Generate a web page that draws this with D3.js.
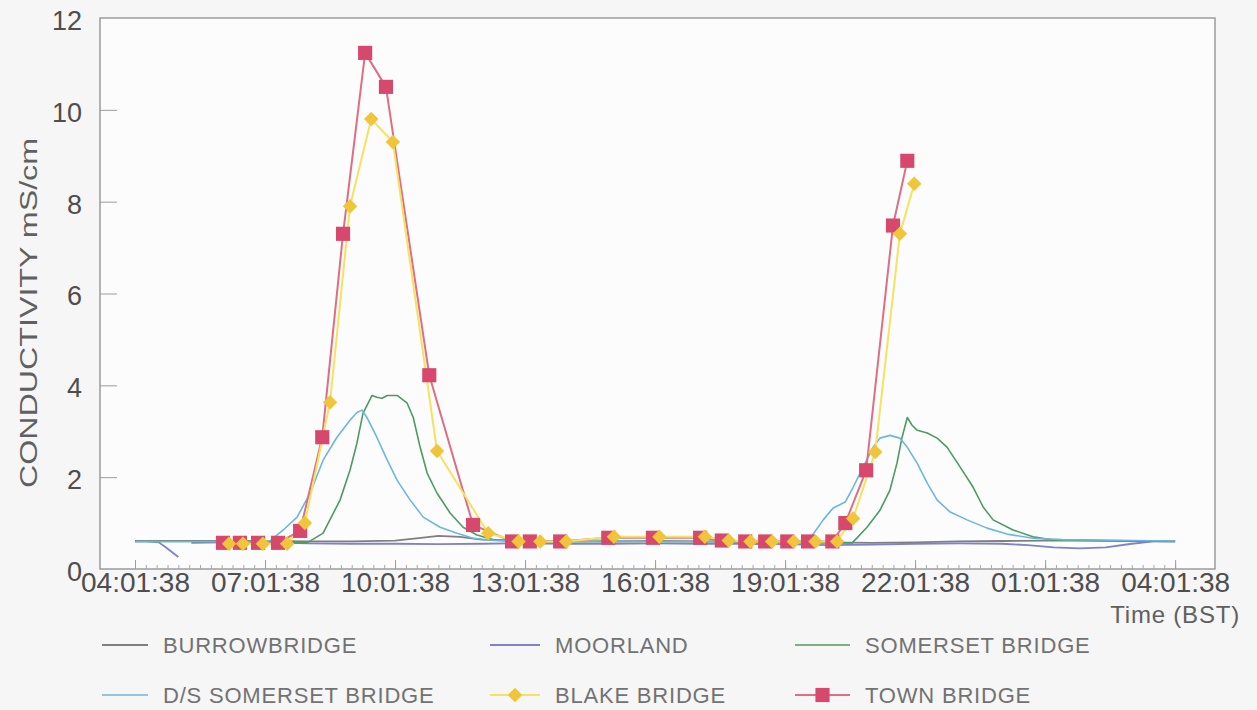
<!DOCTYPE html>
<html>
<head>
<meta charset="utf-8">
<script src="https://cdn.jsdelivr.net/npm/d3@7"></script>
<style>
  html, body { margin: 0; padding: 0; background: #f6f6f6; }
  svg { display: block; font-family: "Liberation Sans", Arial, Helvetica, sans-serif; }
</style>
</head>
<body>
<svg id="chart" width="1257" height="710"></svg>
<script>
// Conductivity logger readings, 24 h from 04:01:38 (BST).
// Each reading is [hours after start, conductivity mS/cm]; null = missing reading.
const startClock = [4, 1, 38];
const yTickValues = [0, 2, 4, 6, 8, 10, 12];
const xTickHours = [0, 3, 6, 9, 12, 15, 18, 21, 24];
const axisTitleY = "CONDUCTIVITY mS/cm";
const axisTitleX = "Time (BST)";

const burrowbridge = [
  [0,0.61],[1,0.61],[2,0.61],[3,0.61],[4,0.6],[5,0.6],[6,0.62],[6.6,0.68],[7.0,0.72],
  [7.5,0.7],[8.0,0.64],[9,0.61],[10,0.6],[11,0.6],[12,0.61],[13,0.6],[14,0.6],[15,0.6],
  [16,0.58],[17,0.57],[18,0.58],[19,0.6],[20,0.61],[21,0.62],[22,0.62],[23,0.61],[24,0.6]
];

const moorland = [
  [0,0.6],[0.25,0.6],[0.55,0.58],[0.7,0.48],[1.0,0.26],[1.1,null],[1.3,0.57],[2,0.58],
  [3,0.58],[4,0.56],[5,0.55],[6,0.55],[7,0.54],[8,0.55],[9,0.56],[10,0.55],[11,0.55],
  [12,0.56],[13,0.55],[14,0.55],[15,0.54],[16,0.52],[17,0.53],[18,0.55],[19,0.56],
  [20,0.55],[20.6,0.52],[21.2,0.47],[21.8,0.45],[22.4,0.47],[23,0.55],[23.5,0.6],[24,0.6]
];

const somersetBridge = [
  [0,0.6],[1,0.6],[2,0.6],[3,0.59],[3.6,0.57],[3.97,0.57],[4.34,0.78],[4.73,1.5],[4.96,2.15],
  [5.12,2.74],[5.26,3.39],[5.47,3.78],[5.58,3.74],[5.7,3.72],[5.82,3.78],[6.05,3.78],
  [6.28,3.61],[6.42,3.3],[6.58,2.65],[6.74,2.09],[6.97,1.65],[7.27,1.22],[7.57,0.91],
  [7.89,0.74],[8.3,0.63],[9,0.6],[10,0.6],[11,0.6],[12,0.6],[13,0.6],[14,0.59],[15,0.58],
  [16,0.57],[16.55,0.57],[16.89,0.91],[17.19,1.28],[17.42,1.72],[17.58,2.3],[17.7,2.87],
  [17.82,3.3],[17.93,3.13],[18.05,3.02],[18.28,2.96],[18.51,2.85],[18.74,2.65],[19.04,2.22],
  [19.34,1.78],[19.57,1.35],[19.8,1.07],[20.26,0.85],[20.72,0.7],[21.19,0.63],[22,0.62],
  [23,0.61],[24,0.6]
];

const dsSomersetBridge = [
  [0,0.6],[1,0.6],[2,0.6],[2.8,0.6],[3.12,0.62],[3.42,0.85],[3.74,1.13],[4.04,1.65],
  [4.34,2.37],[4.66,2.87],[4.96,3.24],[5.12,3.41],[5.24,3.46],[5.35,3.3],[5.58,2.87],
  [5.82,2.37],[6.05,1.93],[6.35,1.5],[6.65,1.13],[7.04,0.91],[7.43,0.78],[7.8,0.67],
  [8.3,0.62],[9,0.6],[10,0.6],[11,0.61],[12,0.6],[13,0.6],[14,0.6],[15,0.6],[15.3,0.6],
  [15.58,0.67],[15.88,1.07],[16.11,1.33],[16.39,1.46],[16.57,1.78],[16.8,2.22],[17.03,2.65],
  [17.19,2.85],[17.42,2.91],[17.65,2.85],[17.82,2.65],[18.05,2.3],[18.28,1.87],[18.51,1.5],
  [18.81,1.24],[19.2,1.07],[19.66,0.89],[20.12,0.76],[20.72,0.67],[21.4,0.64],[22.2,0.63],
  [23,0.62],[24,0.61]
];

const blakeBridge = [
  [2.17,0.55],[2.49,0.55],[2.95,0.55],[3.51,0.55],[3.92,1.0],[4.5,3.63],[4.96,7.9],
  [5.45,9.8],[5.95,9.3],[6.97,2.57],[8.15,0.78],[8.85,0.6],[9.35,0.6],[9.95,0.6],
  [11.05,0.7],[12.1,0.7],[13.15,0.7],[13.7,0.62],[14.2,0.6],[14.7,0.6],[15.2,0.6],
  [15.7,0.6],[16.2,0.6],[16.57,1.1],[17.08,2.55],[17.65,7.3],[17.98,8.39]
];

const townBridge = [
  [2.03,0.57],[2.42,0.57],[2.84,0.57],[3.3,0.57],[3.81,0.83],[4.32,2.87],[4.8,7.3],
  [5.31,11.24],[5.79,10.5],[6.79,4.22],[7.8,0.96],[8.7,0.6],[9.11,0.6],[9.81,0.6],
  [10.92,0.68],[11.95,0.68],[13.04,0.68],[13.54,0.62],[14.08,0.6],[14.54,0.6],
  [15.05,0.6],[15.53,0.6],[16.09,0.6],[16.39,1.0],[16.87,2.15],[17.49,7.48],[17.82,8.89]
];

// Drawing order, colours and marker kind per station
const series = [
  { name: "BURROWBRIDGE",        data: burrowbridge,     color: "#7f7f7f", width: 1.8 },
  { name: "MOORLAND",            data: moorland,         color: "#7f82c6", width: 1.8 },
  { name: "SOMERSET BRIDGE",     data: somersetBridge,   color: "#4f9a62", width: 1.6 },
  { name: "D/S SOMERSET BRIDGE", data: dsSomersetBridge, color: "#6db6df", width: 1.6 },
  { name: "TOWN BRIDGE",         data: townBridge,       color: "#de6e84", width: 2, marker: "square",  markerColor: "#d6496c" },
  { name: "BLAKE BRIDGE",        data: blakeBridge,      color: "#f4e260", width: 2, marker: "diamond", markerColor: "#f1c53a" }
];

const legendOrder = [
  { name: "BURROWBRIDGE", col: 0, row: 0 },
  { name: "MOORLAND", col: 1, row: 0 },
  { name: "SOMERSET BRIDGE", col: 2, row: 0 },
  { name: "D/S SOMERSET BRIDGE", col: 0, row: 1 },
  { name: "BLAKE BRIDGE", col: 1, row: 1 },
  { name: "TOWN BRIDGE", col: 2, row: 1 }
];

const svg = d3.select("#chart");
const plot = { left: 100, right: 1215, top: 18, bottom: 569 };

const base = Date.UTC(2000, 5, 1, startClock[0], startClock[1], startClock[2]);
const at = h => new Date(base + h * 3600e3);

const x = d3.scaleUtc()
  .domain([at(-0.808), at(24.92)])
  .range([plot.left, plot.right]);
const y = d3.scaleLinear()
  .domain([0, 12])
  .range([plot.bottom, plot.top]);

// plot frame
svg.append("rect")
  .attr("x", plot.left).attr("y", plot.top)
  .attr("width", plot.right - plot.left).attr("height", plot.bottom - plot.top)
  .attr("fill", "#fcfcfc").attr("stroke", "#9c9c9c").attr("stroke-width", 1.5);

// minor ticks every 15 minutes
const minorTicks = d3.range(0, 97).map(i => at(i * 0.25));
svg.append("g")
  .attr("transform", `translate(0,${plot.bottom})`)
  .call(d3.axisBottom(x).tickValues(minorTicks).tickSize(-4).tickFormat(""))
  .call(g => g.select(".domain").remove())
  .call(g => g.selectAll("line").attr("stroke", "#a8a8a8"));

// major ticks and time labels
const fmt = d3.utcFormat("%H:%M:%S");
svg.append("g")
  .attr("transform", `translate(0,${plot.bottom})`)
  .call(d3.axisBottom(x).tickValues(xTickHours.map(at)).tickSize(-9).tickPadding(3).tickFormat(fmt))
  .call(g => g.select(".domain").remove())
  .call(g => g.selectAll("line").attr("stroke", "#9c9c9c"))
  .call(g => g.selectAll("text")
    .attr("font-size", 28).attr("fill", "#4e4e4e")
    .attr("font-family", "'Liberation Sans', Arial, sans-serif"));

// y axis
svg.append("g")
  .attr("transform", `translate(${plot.left},0)`)
  .call(d3.axisLeft(y).tickValues(yTickValues).tickSize(-17).tickPadding(18).tickFormat(d3.format("d")))
  .call(g => g.select(".domain").remove())
  .call(g => g.selectAll("line").attr("stroke", "#9c9c9c")
    .attr("opacity", d => (d === 0 || d === 12) ? 0 : 1))
  .call(g => g.selectAll("text")
    .attr("font-size", 27).attr("fill", "#4e4e4e").attr("dy", "0.42em")
    .attr("font-family", "'Liberation Sans', Arial, sans-serif"));

// axis titles
svg.append("text")
  .attr("transform", "translate(37,313) rotate(-90)")
  .attr("text-anchor", "middle")
  .attr("font-size", 23).attr("fill", "#606060")
  .attr("textLength", 350).attr("lengthAdjust", "spacingAndGlyphs")
  .text(axisTitleY);

svg.append("text")
  .attr("x", 1240).attr("y", 623)
  .attr("text-anchor", "end")
  .attr("font-size", 24).attr("fill", "#606060")
  .attr("letter-spacing", 0.8)
  .text(axisTitleX);

// series lines
const line = d3.line()
  .defined(d => d[1] != null)
  .x(d => x(at(d[0])))
  .y(d => y(d[1]));

const markerPath = {
  square: d3.symbol().type(d3.symbolSquare).size(200)(),
  diamond: d3.symbol().type(d3.symbolSquare).size(105)()
};

series.forEach(s => {
  svg.append("path")
    .datum(s.data)
    .attr("fill", "none")
    .attr("stroke", s.color)
    .attr("stroke-width", s.width)
    .attr("stroke-linejoin", "round")
    .attr("d", line);
});

series.filter(s => s.marker).forEach(s => {
  svg.append("g").selectAll("path")
    .data(s.data.filter(d => d[1] != null))
    .join("path")
    .attr("d", markerPath[s.marker])
    .attr("transform", d => `translate(${x(at(d[0]))},${y(d[1])})` + (s.marker === "diamond" ? " rotate(45)" : ""))
    .attr("fill", s.markerColor);
});

// legend
const colX = [102, 490, 795];
const colW = [46, 50, 55];
const rowY = [645, 695];
const legend = svg.append("g");
legendOrder.forEach(item => {
  const s = series.find(d => d.name === item.name);
  const x0 = colX[item.col], x1 = x0 + colW[item.col], yy = rowY[item.row];
  legend.append("line")
    .attr("x1", x0).attr("x2", x1).attr("y1", yy).attr("y2", yy)
    .attr("stroke", s.color).attr("stroke-width", s.width);
  if (s.marker) {
    legend.append("path")
      .attr("d", markerPath[s.marker])
      .attr("transform", `translate(${(x0 + x1) / 2},${yy})` + (s.marker === "diamond" ? " rotate(45)" : ""))
      .attr("fill", s.markerColor);
  }
  legend.append("text")
    .attr("x", x1 + 15).attr("y", yy + 8)
    .attr("font-size", 22).attr("fill", "#727272")
    .attr("letter-spacing", 0.8)
    .text(s.name);
});
</script>
</body>
</html>
